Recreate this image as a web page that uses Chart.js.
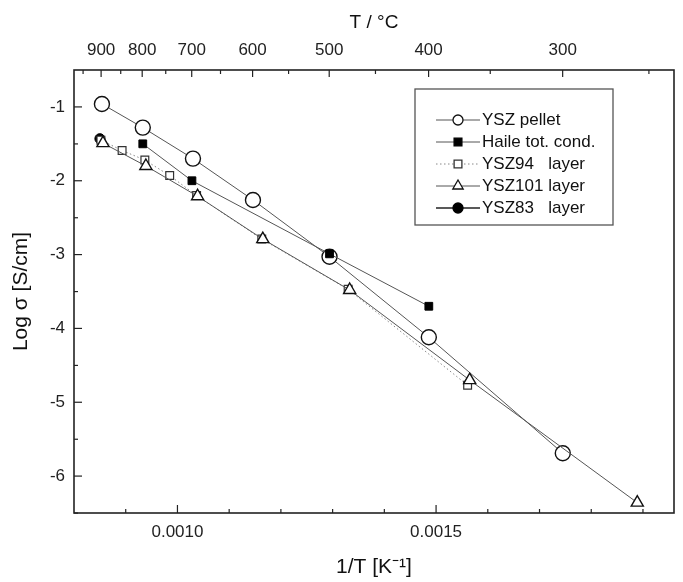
<!DOCTYPE html>
<html lang="en">
<head>
 <meta charset="UTF-8">
 <title>Log sigma vs 1/T</title>
 <script src="https://cdn.jsdelivr.net/npm/chart.js"></script>
 <style>
 body { margin: 0; background: #fff; }
 </style>
</head>
<body>
 <canvas id="myChart" width="683" height="582"></canvas>
 <script>
 // values (x = 1/T in 1/K, y = log sigma)
 const pelletX = [0.000854, 0.000933, 0.001030, 0.001146, 0.001294, 0.001486, 0.001745];
 const pelletY = [-0.96, -1.28, -1.70, -2.26, -3.03, -4.12, -5.69];
 const haileX = [0.000933, 0.001028, 0.001294, 0.001486];
 const haileY = [-1.50, -2.00, -2.99, -3.70];
 const ysz94X = [0.000852, 0.000893, 0.000937, 0.000985, 0.001037, 0.001163, 0.001330, 0.001561];
 const ysz94Y = [-1.45, -1.59, -1.72, -1.93, -2.20, -2.79, -3.47, -4.77];
 const ysz101X = [0.000856, 0.000939, 0.001039, 0.001165, 0.001333, 0.001565, 0.001889];
 const ysz101Y = [-1.49, -1.80, -2.21, -2.79, -3.48, -4.70, -6.36];
 const ysz83X = [0.000850];
 const ysz83Y = [-1.43];

 // tick labels
 const xTickLabels = [0.0010, 0.0015];
 const yTickLabels = [-6, -5, -4, -3, -2, -1];
 const topTempLabels = [900, 800, 700, 600, 500, 400, 300];
 const topTempMinor = [950, 850, 750, 650, 550, 450, 350, 250];

 const legendLabels = ['YSZ pellet', 'Haile tot. cond.', 'YSZ94\tlayer', 'YSZ101\tlayer', 'YSZ83\tlayer'];

 const toPoints = (xs, ys) => xs.map((x, i) => ({ x: x, y: ys[i] }));
 const invT = c => 1 / (c + 273.15);

 Chart.defaults.font.family = '"Liberation Sans", Arial, sans-serif';
 Chart.defaults.color = '#222';

 const datasets = [
 { label: legendLabels[0], data: toPoints(pelletX, pelletY), showLine: true,
 borderColor: '#555', borderWidth: 1, pointStyle: 'circle', pointRadius: 7.5,
 pointBackgroundColor: '#fff', pointBorderColor: '#111', pointBorderWidth: 1.4, order: 2 },
 { label: legendLabels[1], data: toPoints(haileX, haileY), showLine: true,
 borderColor: '#555', borderWidth: 1, pointStyle: 'rect', pointRadius: 5.5,
 pointBackgroundColor: '#000', pointBorderColor: '#000', pointBorderWidth: 1, order: 0 },
 { label: legendLabels[2], data: toPoints(ysz94X, ysz94Y), showLine: true,
 borderColor: '#888', borderWidth: 1, borderDash: [1.5, 2.5], pointStyle: 'rect', pointRadius: 5.5,
 pointBackgroundColor: '#fff', pointBorderColor: '#333', pointBorderWidth: 1.2, order: 3 },
 { label: legendLabels[3], data: toPoints(ysz101X, ysz101Y), showLine: true,
 borderColor: '#555', borderWidth: 1, pointStyle: 'triangle', pointRadius: 7,
 pointBackgroundColor: '#fff', pointBorderColor: '#111', pointBorderWidth: 1.4, order: 1 },
 { label: legendLabels[4], data: toPoints(ysz83X, ysz83Y), showLine: true,
 borderColor: '#222', borderWidth: 1.5, pointStyle: 'circle', pointRadius: 5,
 pointBackgroundColor: '#000', pointBorderColor: '#000', pointBorderWidth: 1, order: 4 }
 ];

 function drawMarker(ctx, style, r, x, y) {
 ctx.beginPath();
 if (style === 'circle') {
 ctx.arc(x, y, r, 0, Math.PI * 2);
 } else if (style === 'rect') {
 const s = r * Math.SQRT1_2;
 ctx.rect(x - s, y - s, 2 * s, 2 * s);
 } else if (style === 'triangle') {
 let a = 0;
 ctx.moveTo(x + Math.sin(a) * r, y - Math.cos(a) * r);
 a += 2 * Math.PI / 3;
 ctx.lineTo(x + Math.sin(a) * r, y - Math.cos(a) * r);
 a += 2 * Math.PI / 3;
 ctx.lineTo(x + Math.sin(a) * r, y - Math.cos(a) * r);
 ctx.closePath();
 }
 ctx.fill();
 ctx.stroke();
 }

 // frame + inward tick marks
 const framePlugin = {
 id: 'frame',
 afterDraw(chart) {
 const { ctx, chartArea: { left, right, top, bottom }, scales: { x, y, x2 } } = chart;
 ctx.save();
 ctx.strokeStyle = '#222';
 ctx.lineWidth = 1.2;
 const line = (x1, y1, x2_, y2) => { ctx.beginPath(); ctx.moveTo(x1, y1); ctx.lineTo(x2_, y2); ctx.stroke(); };
 // bottom: minor every 0.0001
 for (let k = 9; k <= 19; k++) {
 const px = x.getPixelForValue(k / 10000);
 line(px, bottom, px, bottom - (k % 5 === 0 ? 8 : 4));
 }
 // top: temperature ticks
 topTempLabels.forEach(t => { const px = x2.getPixelForValue(invT(t)); line(px, top, px, top + 7); });
 topTempMinor.forEach(t => { const px = x2.getPixelForValue(invT(t)); line(px, top, px, top + 4); });
 // left
 yTickLabels.forEach(v => { const py = y.getPixelForValue(v); line(left, py, left + 8, py); line(left, py + 37, left + 4, py + 37); });
 ctx.lineWidth = 1.6;
 ctx.strokeRect(left, top, right - left, bottom - top);
 ctx.restore();
 }
 };

 const legendPlugin = {
 id: 'boxLegend',
 afterDraw(chart, args, opts) {
 const ctx = chart.ctx;
 ctx.save();
 ctx.strokeStyle = '#555';
 ctx.lineWidth = 1.3;
 ctx.fillStyle = '#fff';
 ctx.fillRect(opts.x, opts.y, opts.w, opts.h);
 ctx.strokeRect(opts.x, opts.y, opts.w, opts.h);
 ctx.font = '17px "Liberation Sans", Arial, sans-serif';
 ctx.textBaseline = 'middle';
 const textX = opts.x + 67;
 const layerX = textX + ctx.measureText('YSZ101 ').width;
 chart.data.datasets.forEach((ds, i) => {
 const cy = opts.y + 31 + i * 22;
 const x0 = opts.x + 21, x1 = opts.x + 65, cx = (x0 + x1) / 2;
 ctx.strokeStyle = ds.borderColor;
 ctx.lineWidth = ds.borderWidth;
 ctx.setLineDash(ds.borderDash || []);
 ctx.beginPath(); ctx.moveTo(x0, cy); ctx.lineTo(x1, cy); ctx.stroke();
 ctx.setLineDash([]);
 ctx.fillStyle = ds.pointBackgroundColor;
 ctx.strokeStyle = ds.pointBorderColor;
 ctx.lineWidth = 1.3;
 drawMarker(ctx, ds.pointStyle, ds.pointStyle === 'triangle' ? 6 : (ds.pointStyle === 'rect' ? 5.5 : 5), cx, cy);
 ctx.fillStyle = '#111';
 const parts = ds.label.split('\t');
 ctx.fillText(parts[0], textX, cy);
 if (parts[1]) ctx.fillText(parts[1], layerX, cy);
 });
 ctx.restore();
 }
 };

 const ctx = document.getElementById('myChart').getContext('2d');
 const myChart = new Chart(ctx, {
 type: 'scatter',
 data: { datasets: datasets },
 options: {
 responsive: false,
 animation: false,
 layout: { padding: { left: 0, right: 9, top: 0, bottom: 0 } },
 plugins: {
 legend: { display: false },
 tooltip: { enabled: false },
 boxLegend: { x: 415, y: 89, w: 198, h: 136 }
 },
 scales: {
 x: {
 type: 'linear', position: 'bottom', min: 0.0008, max: 0.00196,
 grid: { display: false, drawTicks: false }, border: { display: false },
 afterBuildTicks: s => { s.ticks = xTickLabels.map(v => ({ value: v })); },
 ticks: { autoSkip: false, maxRotation: 0, padding: 9, font: { size: 17 }, color: '#222',
 callback: v => v.toFixed(4) },
 title: { display: true, text: '1/T [K\u207B\u00B9]', font: { size: 21 }, color: '#111',
 padding: { top: 0, bottom: 2 } },
 afterFit: s => { s.height = 69; }
 },
 x2: {
 type: 'linear', position: 'top', min: 0.0008, max: 0.00196,
 grid: { display: false, drawTicks: false }, border: { display: false },
 afterBuildTicks: s => { s.ticks = topTempLabels.map(t => ({ value: invT(t) })); },
 ticks: { autoSkip: false, maxRotation: 0, padding: 9, font: { size: 17 }, color: '#222',
 callback: v => String(Math.round(1 / v - 273.15)) },
 title: { display: true, text: 'T / \u00B0C', font: { size: 19 }, color: '#111',
 padding: { top: 11, bottom: 0 } },
 afterFit: s => { s.height = 70; }
 },
 y: {
 type: 'linear', position: 'left', min: -6.5, max: -0.5,
 grid: { display: false, drawTicks: false }, border: { display: false },
 afterBuildTicks: s => { s.ticks = yTickLabels.map(v => ({ value: v })); },
 ticks: { autoSkip: false, padding: 9, font: { size: 17 }, color: '#222' },
 title: { display: true, text: 'Log \u03C3 [S/cm]', font: { size: 21 }, color: '#111',
 padding: { top: 9, bottom: 0 } },
 afterFit: s => { s.width = 74; }
 }
 }
 },
 plugins: [framePlugin, legendPlugin]
 });
 </script>
</body>
</html>
